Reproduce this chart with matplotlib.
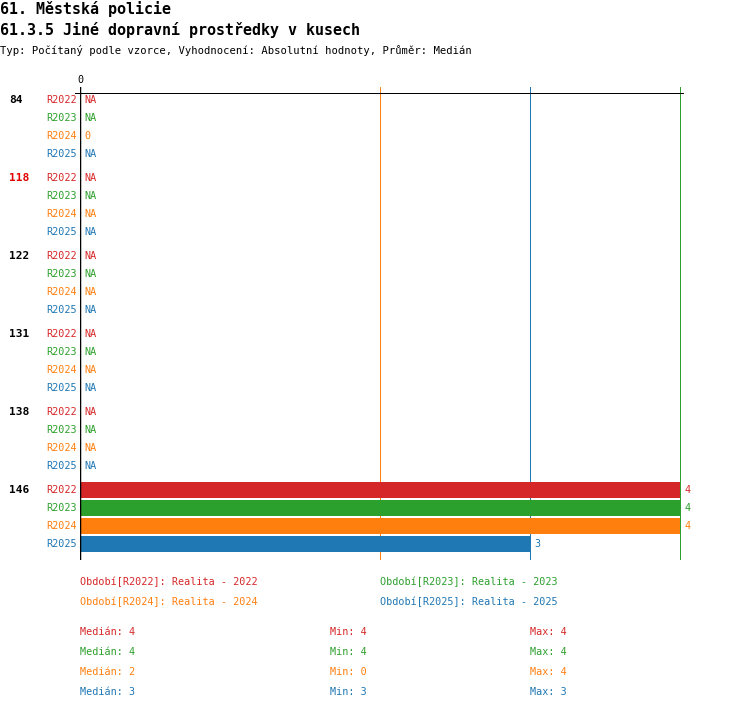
import numpy as np
import matplotlib
matplotlib.use("Agg")
import matplotlib.pyplot as plt

plt.rcParams['font.family'] = ['DejaVu Sans Mono']

title = "61. Městská policie"
subtitle = "61.3.5 Jiné dopravní prostředky v kusech"
info = "Typ: Počítaný podle vzorce, Vyhodnocení: Absolutní hodnoty, Průměr: Medián"

groups = ['84', '118', '122', '131', '138', '146']
group_colors = ['black', '#e00000', 'black', 'black', 'black', 'black']
series = ['R2022', 'R2023', 'R2024', 'R2025']
colors = ['#d62728', '#2ca02c', '#ff7f0e', '#1f77b4']
nan = np.nan
values = {
    'R2022': [nan, nan, nan, nan, nan, 4],
    'R2023': [nan, nan, nan, nan, nan, 4],
    'R2024': [0, nan, nan, nan, nan, 4],
    'R2025': [nan, nan, nan, nan, nan, 3],
}
legend_names = ['Realita - 2022', 'Realita - 2023', 'Realita - 2024', 'Realita - 2025']
medians = [4, 4, 2, 3]
mins = [4, 4, 0, 3]
maxs = [4, 4, 4, 3]

W, H = 750, 710
fig = plt.figure(figsize=(W / 100, H / 100), dpi=100)
px = 0.72  # points per pixel

# axes: x 80..683 px, y 87..560 px
ax = fig.add_axes([80 / W, (H - 560) / H, 603 / W, (560 - 87) / H])
scale = 150.0  # px per unit
ax.set_xlim(0, 603 / scale)
ax.set_ylim(560 - 100, 87 - 100)
for s in ax.spines.values():
    s.set_visible(False)
ax.set_xticks([])
ax.set_yticks([])

fs_small = 7.3
gstep, rstep = 78, 18

for si, name in enumerate(series):
    for gi, g in enumerate(groups):
        y = gi * gstep + si * rstep
        v = values[name][gi]
        ax.annotate(name, xy=(0, y), xytext=(-3 * px, 0), textcoords='offset points',
                    ha='right', va='center', color=colors[si], fontsize=fs_small)
        if np.isnan(v):
            ax.annotate('NA', xy=(0, y), xytext=(4 * px, 0), textcoords='offset points',
                        ha='left', va='center', color=colors[si], fontsize=fs_small)
        else:
            ax.barh(y, v, height=16, color=colors[si], zorder=3)
            ax.annotate('%g' % v, xy=(v, y), xytext=(4 * px, 0), textcoords='offset points',
                        ha='left', va='center', color=colors[si], fontsize=fs_small)

for gi, g in enumerate(groups):
    ax.annotate(g, xy=(0, gi * gstep), xytext=(-71 * px, 0), textcoords='offset points',
                ha='left', va='center', color=group_colors[gi], fontsize=8, fontweight='bold')

# median lines
for si in range(len(series)):
    ax.axvline(medians[si], color=colors[si], lw=1 * px, zorder=1)

# axis lines
ax.axvline(0, color='black', lw=2.5 * px, zorder=4)
ax.plot([-5 / scale, 603 / scale], [-7, -7], color='black', lw=1 * px, clip_on=False, zorder=4)
ax.annotate('0', xy=(0, -7), xytext=(0, 8 * px), textcoords='offset points',
            ha='center', va='bottom', fontsize=fs_small)

# titles
fig.text(0 / W, 1 - 9 / H, title, fontsize=10.8, fontweight='bold', va='center', ha='left')
fig.text(0 / W, 1 - 30 / H, subtitle, fontsize=10.8, fontweight='bold', va='center', ha='left')
fig.text(0 / W, 1 - 50 / H, info, fontsize=7.6, va='center', ha='left')

# legend
leg_pos = [(80, 582), (380, 582), (80, 602), (380, 602)]
for si, name in enumerate(series):
    x, y = leg_pos[si]
    fig.text(x / W, 1 - y / H, 'Období[%s]: %s' % (name, legend_names[si]),
             color=colors[si], fontsize=fs_small, va='center', ha='left')

# stats
for si in range(len(series)):
    y = 632 + si * 20
    fig.text(80 / W, 1 - y / H, 'Medián: %g' % medians[si], color=colors[si],
             fontsize=fs_small, va='center')
    fig.text(330 / W, 1 - y / H, 'Min: %g' % mins[si], color=colors[si],
             fontsize=fs_small, va='center')
    fig.text(530 / W, 1 - y / H, 'Max: %g' % maxs[si], color=colors[si],
             fontsize=fs_small, va='center')

fig.savefig('out.png', dpi=100)
